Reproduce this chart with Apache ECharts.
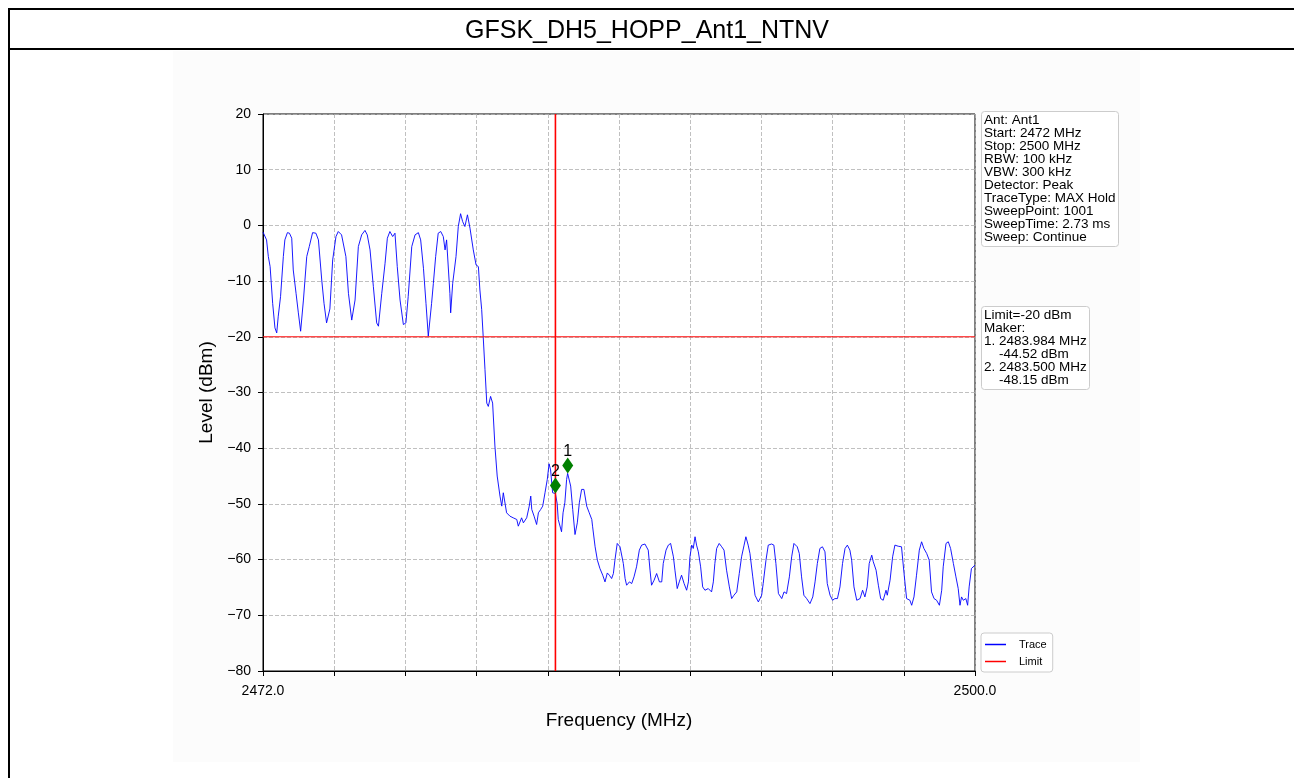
<!DOCTYPE html>
<html>
<head>
<meta charset="utf-8">
<script src="https://cdn.jsdelivr.net/npm/echarts@6/dist/echarts.min.js"></script>
<style>
html,body{margin:0;padding:0;background:#fff;}
#chart{width:1294px;height:778px;}
</style>
</head>
<body>
<div id="chart"></div>
<script>
// ---------- data ----------
const chartTitle = 'GFSK_DH5_HOPP_Ant1_NTNV';
const freqStart = 2472;
const freqStop = 2500;
const xTickLabels = ['2472.0','','','','','','','','','','2500.0'];
const yTicks = [20,10,0,-10,-20,-30,-40,-50,-60,-70,-80];
const limitLevel = -20;
const limitFreq = 2483.5;

const freqMHz = [
2472.00,2472.04,2472.14,2472.21,2472.28,2472.38,2472.47,2472.54,2472.60,2472.69,2472.80,2472.86,2472.96,
2473.04,2473.13,2473.19,2473.30,2473.39,2473.48,2473.59,2473.72,2473.82,2473.95,
2474.08,2474.18,2474.31,2474.40,2474.50,2474.63,2474.74,2474.87,2474.96,
2475.09,2475.16,2475.26,2475.36,2475.49,2475.62,2475.75,2475.88,
2476.01,2476.10,2476.21,2476.34,2476.47,2476.54,2476.67,2476.80,2476.89,2476.99,
2477.10,2477.19,2477.28,2477.39,2477.52,2477.62,2477.71,2477.85,2477.98,
2478.11,2478.20,2478.31,2478.41,2478.50,2478.63,2478.70,2478.79,2478.89,2478.99,
2479.09,2479.16,2479.22,2479.35,2479.38,2479.46,2479.59,2479.68,2479.77,2479.85,2479.94,
2480.04,2480.14,2480.27,2480.38,2480.47,2480.53,2480.60,2480.66,2480.73,2480.80,2480.86,2480.95,
2481.03,2481.12,2481.21,2481.32,2481.39,2481.45,2481.52,2481.58,2481.71,2481.84,2481.98,
2482.04,2482.17,2482.24,2482.37,2482.47,2482.53,2482.57,2482.66,2482.76,2482.83,2482.92,
2483.00,2483.09,2483.18,2483.25,2483.31,2483.39,2483.50,2483.57,2483.61,2483.74,2483.80,2483.87,2483.94,2483.98,
2484.10,2484.18,2484.27,2484.36,2484.44,2484.53,2484.62,2484.73,2484.83,2484.93,2484.96,
2485.06,2485.15,2485.25,2485.36,2485.45,2485.54,2485.62,2485.71,2485.78,2485.84,2485.93,
2486.04,2486.10,2486.17,2486.24,2486.30,2486.41,2486.50,2486.59,2486.69,2486.80,2486.89,
2487.02,2487.15,2487.22,2487.28,2487.38,2487.48,2487.59,2487.68,2487.74,2487.85,2487.94,
2488.03,2488.14,2488.20,2488.29,2488.37,2488.46,2488.56,2488.66,2488.73,2488.79,2488.86,2488.92,2488.99,
2489.05,2489.12,2489.21,2489.29,2489.38,2489.51,2489.64,2489.71,2489.77,2489.84,2489.94,
2490.04,2490.13,2490.23,2490.34,2490.43,2490.52,2490.63,2490.73,2490.82,2490.92,2490.99,
2491.08,2491.15,2491.26,2491.35,2491.48,2491.61,2491.67,2491.78,2491.87,
2492.00,2492.09,2492.17,2492.27,2492.40,2492.49,2492.59,2492.70,2492.79,2492.88,
2493.01,2493.09,2493.18,2493.27,2493.38,2493.51,2493.62,2493.71,2493.80,2493.90,
2494.00,2494.10,2494.19,2494.30,2494.40,2494.49,2494.59,2494.69,2494.79,2494.89,2494.98,
2495.08,2495.15,2495.24,2495.35,2495.48,2495.58,2495.67,2495.76,2495.84,2495.94,
2496.00,2496.11,2496.20,2496.29,2496.39,2496.50,2496.55,2496.66,2496.76,2496.85,2496.98,
2497.11,2497.21,2497.31,2497.44,2497.51,2497.60,2497.70,2497.81,2497.90,2497.99,
2498.10,2498.20,2498.29,2498.39,2498.49,2498.60,2498.69,2498.75,2498.86,2498.95,
2499.04,2499.15,2499.25,2499.34,2499.41,2499.47,2499.54,2499.64,2499.71,2499.77,2499.86,2500.00
];
const levelDbm = [
-1.2,-1.4,-2.6,-5.6,-7.4,-14.0,-18.4,-19.3,-16.3,-12.8,-5.6,-2.6,-1.3,
-1.4,-2.3,-8.0,-12.2,-15.7,-19.0,-13.4,-5.6,-3.8,-1.3,
-1.4,-2.6,-9.8,-14.0,-17.5,-15.0,-6.2,-2.0,-1.1,
-1.7,-1.4,-5.6,-12.2,-17.0,-13.4,-3.8,-1.7,
-0.9,-1.7,-4.4,-11.0,-17.5,-18.1,-12.2,-6.8,-2.3,-1.1,
-2.0,-1.4,-7.4,-13.4,-17.8,-17.5,-12.8,-3.8,-1.7,
-1.3,-2.6,-7.7,-14.0,-19.9,-14.0,-10.4,-5.6,-1.4,-1.1,
-2.0,-4.4,-2.6,-12.2,-15.7,-10.4,-5.6,-0.2,2.1,0.7,-0.2,
1.9,-0.5,-4.4,-7.1,-7.4,-11.6,-15.1,-20.0,-25.9,-31.9,-32.5,-30.7,
-31.9,-39.6,-45.0,-48.6,-50.4,-48.0,-48.0,-51.6,-52.2,-52.5,-52.8,
-54.0,-52.5,-53.4,-52.5,-50.4,-48.6,-51.0,-52.2,-53.7,-51.6,-51.0,
-50.4,-48.0,-45.6,-42.8,-43.9,-48.0,-48.15,-50.0,-52.8,-55.0,-51.6,-49.8,-45.6,-44.52,
-46.8,-51.0,-55.5,-53.4,-49.8,-47.4,-47.4,-50.4,-51.6,-52.8,-54.0,
-57.7,-60.1,-61.6,-62.8,-64.0,-62.4,-62.8,-63.4,-62.5,-60.1,-57.1,
-57.7,-57.6,-60.7,-63.4,-64.6,-64.0,-64.3,-63.1,-61.3,-58.3,-57.4,
-57.2,-58.3,-61.9,-64.6,-63.7,-62.5,-64.0,-64.0,-60.7,-58.3,-57.4,
-57.1,-59.5,-61.9,-65.2,-64.0,-62.8,-64.3,-65.5,-64.0,-59.5,-57.4,-58.0,-55.9,
-57.4,-58.6,-61.3,-64.9,-65.5,-65.2,-65.8,-64.0,-60.7,-58.0,-57.1,
-57.7,-58.3,-61.9,-64.9,-67.0,-66.4,-65.8,-62.5,-59.5,-57.4,-55.9,
-57.4,-58.9,-63.1,-66.4,-67.6,-66.4,-64.3,-60.1,-57.4,
-57.2,-57.4,-60.7,-66.1,-67.0,-65.8,-66.1,-63.1,-59.5,-57.1,
-57.7,-58.9,-63.1,-66.4,-67.0,-67.9,-66.7,-64.0,-60.7,-58.0,
-57.7,-58.6,-64.3,-66.4,-67.3,-67.0,-67.0,-64.9,-60.7,-58.0,-57.4,
-58.3,-60.1,-64.9,-67.3,-67.0,-65.5,-66.7,-64.9,-60.7,-59.2,
-60.4,-61.9,-64.6,-67.0,-67.3,-65.5,-66.4,-63.7,-59.5,-57.4,-57.6,
-57.7,-62.5,-67.0,-67.3,-68.2,-66.7,-62.8,-58.3,-56.8,-58.0,
-58.9,-60.1,-65.8,-67.0,-67.3,-68.2,-65.5,-61.3,-57.1,-56.8,
-58.0,-60.7,-63.1,-65.2,-68.2,-66.7,-67.3,-67.0,-68.2,-64.9,-61.6,-61.0
];

const markerFreq = [2483.984, 2483.500];
const markerLevel = [-44.52, -48.15];
const markerNames = ['1', '2'];

const infoLines = [
  'Ant: Ant1','Start: 2472 MHz','Stop: 2500 MHz','RBW: 100 kHz','VBW: 300 kHz',
  'Detector: Peak','TraceType: MAX Hold','SweepPoint: 1001','SweepTime: 2.73 ms','Sweep: Continue'
];
const markerInfoLines = [
  'Limit=-20 dBm','Maker:','1. 2483.984 MHz','    -44.52 dBm','2. 2483.500 MHz','    -48.15 dBm'
];

// ---------- build ----------
const FONT = "'Liberation Sans', Arial, Helvetica, sans-serif";
const span = freqStop - freqStart;
const tickStep = span / (xTickLabels.length - 1);
const yMin = yTicks[yTicks.length - 1];
const yMax = yTicks[0];
const traceData = freqMHz.map((f, i) => [f - freqStart, levelDbm[i]]);
const markerData = markerFreq.map((f, i) => ({ name: markerNames[i], value: [f - freqStart, markerLevel[i]] }));
const minus = s => String(s).replace('-', '\u2212');

const chart = echarts.init(document.getElementById('chart'), null, { renderer: 'canvas' });

const boxStyle = {
  backgroundColor: '#ffffff',
  borderColor: '#cccccc',
  borderWidth: 1,
  borderRadius: 3,
  padding: [2, 3, 2, 3]
};

chart.setOption({
  animation: false,
  backgroundColor: '#ffffff',
  textStyle: { fontFamily: FONT },
  graphic: [
    { type: 'rect', z: -100, shape: { x: 173, y: 51, width: 967, height: 711 }, style: { fill: '#fcfcfc' } },
    { type: 'line', z: 100, shape: { x1: 9, y1: 9, x2: 1294, y2: 9 }, style: { stroke: '#000', lineWidth: 2 } },
    { type: 'line', z: 100, shape: { x1: 9, y1: 49, x2: 1294, y2: 49 }, style: { stroke: '#000', lineWidth: 2 } },
    { type: 'line', z: 100, shape: { x1: 9, y1: 8, x2: 9, y2: 778 }, style: { stroke: '#000', lineWidth: 2 } }
  ],
  title: [
    {
      text: chartTitle, left: 'center', top: 19, padding: 0,
      textStyle: { fontFamily: FONT, fontSize: 25, fontWeight: 'normal', color: '#000' }
    },
    Object.assign({
      text: infoLines.join('\n'), left: 981, top: 112,
      textStyle: { fontFamily: FONT, fontSize: 13.5, lineHeight: 13, fontWeight: 'normal', color: '#000' }
    }, boxStyle),
    Object.assign({
      text: markerInfoLines.join('\n'), left: 981, top: 307,
      textStyle: { fontFamily: FONT, fontSize: 13.5, lineHeight: 13, fontWeight: 'normal', color: '#000' }
    }, boxStyle)
  ],
  legend: {
    left: 981, top: 633, orient: 'vertical',
    data: ['Trace', 'Limit'],
    icon: 'rect', itemWidth: 21, itemHeight: 1.5, itemGap: 6,
    padding: [6, 6, 5, 4],
    backgroundColor: '#fff', borderColor: '#cccccc', borderWidth: 1, borderRadius: 3,
    textStyle: { fontFamily: FONT, fontSize: 11, color: '#000', padding: [0, 0, 0, 8] }
  },
  grid: {
    left: 263, top: 114, width: 712, height: 557,
    show: true, backgroundColor: '#ffffff', borderColor: '#000', borderWidth: 1
  },
  xAxis: {
    type: 'value', min: 0, max: span, interval: tickStep,
    name: 'Frequency (MHz)', nameLocation: 'middle', nameGap: 40,
    nameTextStyle: { fontFamily: FONT, fontSize: 19, color: '#000' },
    axisLine: { show: true, onZero: false, lineStyle: { color: '#000', width: 1 } },
    axisTick: { show: true, length: 5, lineStyle: { color: '#000' } },
    axisLabel: {
      show: true, margin: 13, fontFamily: FONT, fontSize: 14, color: '#000',
      showMinLabel: true, showMaxLabel: true,
      formatter: v => xTickLabels[Math.round(v / tickStep)] || ''
    },
    splitLine: { show: true, lineStyle: { color: '#b0b0b0', width: 0.8, type: [4, 2] } }
  },
  yAxis: {
    type: 'value', min: yMin, max: yMax, interval: 10,
    name: 'Level (dBm)', nameLocation: 'middle', nameGap: 40,
    nameTextStyle: { fontFamily: FONT, fontSize: 19, color: '#000' },
    axisLine: { show: true, onZero: false, lineStyle: { color: '#000', width: 1 } },
    axisTick: { show: true, length: 5, lineStyle: { color: '#000' } },
    axisLabel: { margin: 12, fontFamily: FONT, fontSize: 14, color: '#000', formatter: v => minus(v) },
    splitLine: { show: true, lineStyle: { color: '#b0b0b0', width: 0.8, type: [4, 2] } }
  },
  series: [
    {
      name: 'Trace', type: 'line', data: traceData, showSymbol: false, symbol: 'none',
      lineStyle: { color: '#0000ff', width: 0.9 }, itemStyle: { color: '#0000ff' }, z: 3
    },
    {
      name: 'Limit', type: 'line', data: [[0, limitLevel], [span, limitLevel]], showSymbol: false, symbol: 'none',
      lineStyle: { color: '#ff0000', width: 1 }, itemStyle: { color: '#ff0000' }, z: 4
    },
    {
      name: 'LimitFreq', type: 'line', data: [[limitFreq - freqStart, yMin], [limitFreq - freqStart, yMax]],
      showSymbol: false, symbol: 'none',
      lineStyle: { color: '#ff0000', width: 1.6 }, itemStyle: { color: '#ff0000' }, z: 4
    },
    {
      name: 'Markers', type: 'scatter', data: markerData, z: 5,
      symbol: 'diamond', symbolSize: [11, 16], symbolOffset: [0, -8],
      itemStyle: { color: '#008000', opacity: 1 },
      label: { show: true, position: 'top', distance: 0, offset: [0, 2], formatter: p => p.name, fontFamily: FONT, fontSize: 16, color: '#000' }
    }
  ]
});
</script>
</body>
</html>
